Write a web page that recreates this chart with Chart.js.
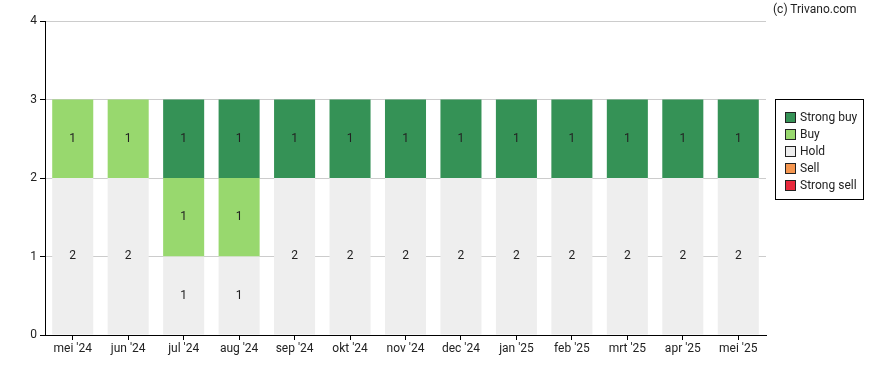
<!DOCTYPE html>
<html><head><meta charset="utf-8">
<script src="https://cdn.jsdelivr.net/npm/chart.js@4"></script>
<style>
body{margin:0;background:#fff;font-family:Roboto,Arial,sans-serif;}
#wrap{position:relative;width:888px;height:370px;}
#copy{position:absolute;left:773px;top:2px;font-size:12px;color:#222;}
#legend{position:absolute;left:775px;top:99px;width:89px;height:101px;border:1px solid #000;box-sizing:border-box;padding:9px 0 0 9px;font-size:12px;color:#222;}
.li{height:17px;line-height:17px;display:flex;align-items:center;}
.sw{width:9px;height:9px;border:1px solid #222;margin-right:4px;}
</style></head>
<body><div id="wrap"><canvas id="c" width="888" height="370"></canvas>
<div id="copy">(c) Trivano.com</div>
<div id="legend"></div></div>
<script>
const categories = ["mei '24","jun '24","jul '24","aug '24","sep '24","okt '24","nov '24","dec '24","jan '25","feb '25","mrt '25","apr '25","mei '25"];
const strongBuy = [0,0,1,1,1,1,1,1,1,1,1,1,1];
const buy       = [1,1,1,1,0,0,0,0,0,0,0,0,0];
const hold      = [2,2,1,1,2,2,2,2,2,2,2,2,2];
const sell      = [0,0,0,0,0,0,0,0,0,0,0,0,0];
const strongSell= [0,0,0,0,0,0,0,0,0,0,0,0,0];
const yTicks = [0,1,2,3,4];

const series = [
  {label:'Strong sell', data:strongSell, color:'#e8283c'},
  {label:'Sell', data:sell, color:'#f5964f'},
  {label:'Hold', data:hold, color:'#eeeeee'},
  {label:'Buy', data:buy, color:'#98d86e'},
  {label:'Strong buy', data:strongBuy, color:'#359256'}
];

const lg = document.getElementById('legend');
series.slice().reverse().forEach(s=>{
  const d=document.createElement('div');d.className='li';
  d.innerHTML='<span class="sw" style="background:'+s.color+'"></span>'+s.label;
  lg.appendChild(d);
});

const labelPlugin = {
  id:'vals',
  afterDatasetsDraw(chart){
    const ctx=chart.ctx;
    ctx.save();
    ctx.font='12px Roboto, Arial, sans-serif';
    ctx.fillStyle='#222';
    ctx.textAlign='center';ctx.textBaseline='middle';
    chart.data.datasets.forEach((ds,i)=>{
      const meta=chart.getDatasetMeta(i);
      meta.data.forEach((bar,j)=>{
        const v=ds.data[j];
        if(!v) return;
        ctx.fillText(String(v), bar.x, (bar.y+bar.base)/2);
      });
    });
    ctx.restore();
  }
};

new Chart(document.getElementById('c'),{
  type:'bar',
  data:{labels:categories,datasets:series.map(s=>({label:s.label,data:s.data,backgroundColor:s.color,borderWidth:0,categoryPercentage:1,barPercentage:0.74}))},
  options:{
    responsive:false,animation:false,
    layout:{padding:{top:21,right:122,left:0,bottom:0}},
    plugins:{legend:{display:false},tooltip:{enabled:false}},
    scales:{
      x:{stacked:true,
        grid:{display:true,drawOnChartArea:false,drawTicks:true,tickLength:5,offset:false,color:'#000'},
        border:{color:'#000',width:1},
        ticks:{color:'#222',font:{family:'Roboto, Arial, sans-serif',size:12},padding:2,maxRotation:0,autoSkip:false},
        afterFit(s){s.height=35;}
      },
      y:{stacked:true,min:0,max:4,
        afterBuildTicks(s){s.ticks=yTicks.map(v=>({value:v}));},
        grid:{color:'#cccccc',tickLength:5,tickColor:'#000'},
        border:{color:'#000',width:1},
        ticks:{color:'#222',font:{family:'Roboto, Arial, sans-serif',size:12},padding:3},
        afterFit(s){s.width=45;}
      }
    }
  },
  plugins:[labelPlugin]
});
</script></body></html>
